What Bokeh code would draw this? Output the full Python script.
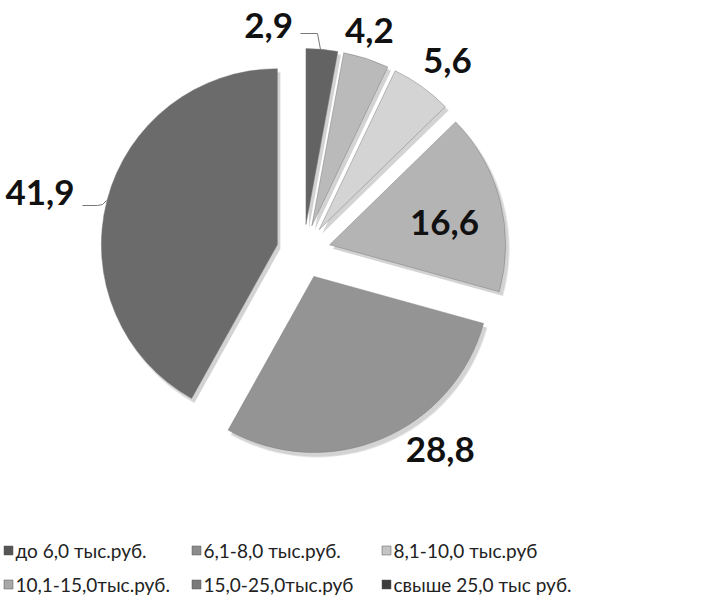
import math
from bokeh.plotting import figure
from bokeh.models import Range1d, ColumnDataSource
from bokeh.core.properties import value
from bokeh.embed import file_html
from bokeh.resources import INLINE

# ---- data ----
categories = ["до 6,0 тыс.руб.", "6,1-8,0 тыс.руб.", "8,1-10,0 тыс.руб",
              "10,1-15,0тыс.руб.", "15,0-25,0тыс.руб", "свыше 25,0 тыс руб."]
shares = [2.9, 4.2, 5.6, 16.6, 28.8, 41.9]
value_labels = ["2,9", "4,2", "5,6", "16,6", "28,8", "41,9"]

# ---- styles ----
colors = ["#636363", "#bababa", "#d4d4d4", "#b4b4b4", "#949494", "#6b6b6b"]
legend_colors = ["#555555", "#8c8c8c", "#c4c4c4", "#a8a8a8", "#7a7a7a", "#3c3c3c"]
label_angle_deg = [100.6, 73.6, 52.8, 11.0, -53.8, 167.6]
label_dist = [203, 204, 212, 117, 214, 243]

W, H = 687, 599
PAGE_H = 615
def Y(py):  # page y (down) -> data y (up)
    return PAGE_H - py

p = figure(width=W, height=H, output_backend="svg", toolbar_location=None,
           x_range=Range1d(8, 8 + W), y_range=Range1d(PAGE_H - 8 - H, PAGE_H - 8),
           min_border=0, outline_line_color=None)
p.axis.visible = False
p.grid.visible = False
p.background_fill_color = "white"

cx, cy = 311, Y(259)
R = 176
explode = 27

total = sum(shares)
cum = 0.0
xs, ys, sa, ea, mids = [], [], [], [], []
for v in shares:
    a0 = math.pi / 2 - 2 * math.pi * (cum + v) / total
    a1 = math.pi / 2 - 2 * math.pi * cum / total
    mid = (a0 + a1) / 2
    xs.append(cx + explode * math.cos(mid))
    ys.append(cy + explode * math.sin(mid))
    sa.append(a0)
    ea.append(a1)
    mids.append(mid)
    cum += v

src = ColumnDataSource(dict(x=xs, y=ys, sa=sa, ea=ea, color=colors,
                            sx=[x + 3 for x in xs], sy=[y - 4 for y in ys]))
# soft shadow
p.wedge(x="sx", y="sy", radius=R + 1, start_angle="sa", end_angle="ea",
        fill_color="#000000", fill_alpha=0.10, line_color=None, source=src)
p.wedge(x="sx", y="sy", radius=R, start_angle="sa", end_angle="ea",
        fill_color="#000000", fill_alpha=0.08, line_color=None, source=src)
p.wedge(x="x", y="y", radius=R, start_angle="sa", end_angle="ea",
        fill_color="color", line_color="#7a7a7a", line_width=0.8,
        line_alpha=0.6, source=src)

# value labels
lx, ly = [], []
for i in range(len(shares)):
    a = math.radians(label_angle_deg[i])
    lx.append(xs[i] + label_dist[i] * math.cos(a))
    ly.append(ys[i] + label_dist[i] * math.sin(a))
p.text(x=lx, y=ly, text=value_labels, text_font=value("Lato"),
       text_font_style="bold", text_font_size="35px", text_color="#111111",
       text_align="center", text_baseline="middle")

# leader lines
p.line(x=[308, 325, 328], y=[Y(41), Y(41), Y(57)], line_color="#777777", line_width=1)
p.line(x=[90, 105, 110, 114], y=[Y(213), Y(213), Y(212), Y(208)], line_color="#777777", line_width=1)

# legend (manual)
leg_x0 = [12, 200, 390]
leg_y = [558, 592]
mx, my, tx, ty = [], [], [], []
for i, name in enumerate(categories):
    r, c = divmod(i, 3)
    mx.append(leg_x0[c] + 4)
    my.append(Y(leg_y[r]))
    tx.append(leg_x0[c] + 11)
    ty.append(Y(leg_y[r]))
p.rect(x=mx, y=my, width=9, height=9, fill_color=legend_colors,
       line_color="#555555", line_width=0.5)
p.text(x=tx, y=ty, text=categories, text_font=value("Lato"),
       text_font_size="19px", text_color="#222222",
       text_align="left", text_baseline="middle")

open("out.html", "w").write(file_html(p, INLINE))
